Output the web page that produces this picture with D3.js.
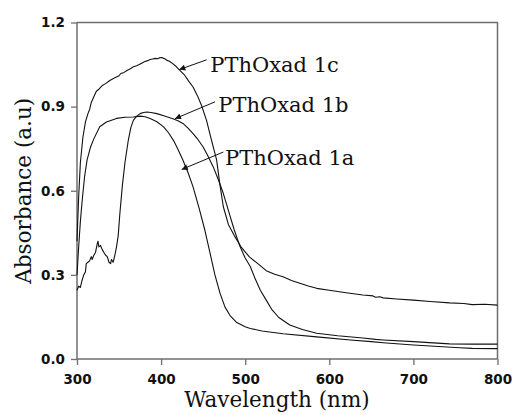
<!DOCTYPE html>
<html>
<head>
<meta charset="utf-8">
<script src="https://cdn.jsdelivr.net/npm/d3@7"></script>
<style>
  html, body { margin: 0; padding: 0; background: #fff; }
  svg { display: block; }
</style>
</head>
<body>
<svg id="chart" width="514" height="415"></svg>
<script>
// ---- data ----
const xTicks = [300, 400, 500, 600, 700, 800];
const yTicks = [0.0, 0.3, 0.6, 0.9, 1.2];
const xLabel = "Wavelength (nm)";
const yLabel = "Absorbance (a.u)";

const wl1c = [300,301,302,304,307,310,313,315,317,320,323,326,330,334,339,345,350,352,356,360,364,367,371,374,377,380,384,387,390,393,396,398,401,403,405,407,410,413,418,422,428,433,438,443,448,454,460,466,470,474,480,487,495,505,515,525,535,545,555,565,575,585,600,620,640,652,655,660,664,680,700,720,743,760,770,785,800];
const ab1c = [0.42,0.50,0.58,0.70,0.79,0.845,0.875,0.89,0.915,0.935,0.955,0.962,0.975,0.982,0.993,1.003,1.01,1.018,1.022,1.03,1.036,1.042,1.046,1.05,1.055,1.06,1.064,1.068,1.07,1.072,1.071,1.074,1.075,1.072,1.07,1.065,1.062,1.055,1.043,1.030,1.012,0.99,0.97,0.94,0.905,0.851,0.78,0.71,0.62,0.543,0.48,0.44,0.40,0.364,0.34,0.315,0.302,0.293,0.28,0.27,0.26,0.252,0.245,0.236,0.228,0.225,0.22,0.222,0.218,0.214,0.21,0.205,0.200,0.198,0.194,0.195,0.192];

const wl1b = [300,302,304,306,308,310,311,313,315,317,318,320,322,324,325,326,328,330,332,334,336,338,340,341,343,345,347,349,351,354,357,361,364,367,371,375,379,383,388,395,405,414,420,426,432,438,444,450,456,462,468,474,480,487,494,500,506,512,518,525,532,540,553,568,585,610,640,655,664,700,743,770,800];
const ab1b = [0.245,0.26,0.255,0.28,0.30,0.31,0.34,0.345,0.35,0.365,0.355,0.37,0.38,0.41,0.42,0.40,0.405,0.39,0.38,0.37,0.365,0.345,0.34,0.355,0.345,0.37,0.40,0.44,0.52,0.62,0.70,0.78,0.825,0.851,0.866,0.875,0.879,0.881,0.879,0.875,0.866,0.857,0.85,0.84,0.823,0.804,0.782,0.756,0.722,0.685,0.64,0.59,0.53,0.46,0.40,0.36,0.33,0.285,0.245,0.21,0.175,0.148,0.121,0.105,0.092,0.083,0.075,0.07,0.068,0.062,0.054,0.053,0.053];

const wl1a = [300,302,304,306,309,312,316,320,327,335,347,357,367,375,381,387,395,403,409,415,420,426,432,438,445,452,458,464,470,476,482,490,500,506,520,545,585,625,650,664,700,755,770,800];
const ab1a = [0.30,0.40,0.49,0.56,0.65,0.71,0.755,0.785,0.828,0.845,0.858,0.862,0.863,0.866,0.864,0.858,0.846,0.828,0.806,0.778,0.748,0.709,0.665,0.614,0.54,0.46,0.38,0.30,0.235,0.185,0.155,0.13,0.115,0.109,0.10,0.09,0.079,0.068,0.062,0.058,0.05,0.04,0.038,0.037];

const labelTexts = ["PThOxad 1c", "PThOxad 1b", "PThOxad 1a"];
// annotation anchors in data units: text start, arrow tail, arrow tip
const labelWl   = [458.5, 468, 476];
const labelAb   = [1.023, 0.881, 0.691];
const tailWl    = [454.2, 464.1, 474];
const tailAb    = [1.067, 0.917, 0.738];
const tipWl     = [421.6, 416.5, 424.5];
const tipAb     = [1.032, 0.857, 0.676];

// ---- drawing ----
const svg = d3.select("#chart");
const x = d3.scaleLinear().domain([300, 800]).range([77, 497.5]);
const y = d3.scaleLinear().domain([0, 1.2]).range([359, 22.5]);

const axisColor = "#6e6e6e";

// frame (top and right)
svg.append("path")
  .attr("d", `M${x(300)},${y(1.2)}H${x(800)}V${y(0)}`)
  .attr("fill", "none").attr("stroke", axisColor).attr("stroke-width", 1.5);

const gx = svg.append("g").attr("transform", `translate(0,${y(0)})`)
  .call(d3.axisBottom(x).tickValues(xTicks).tickSize(6).tickPadding(9).tickFormat(d3.format("d")));
const gy = svg.append("g").attr("transform", `translate(${x(300)},0)`)
  .call(d3.axisLeft(y).tickValues(yTicks).tickSize(6).tickPadding(6).tickFormat(d3.format(".1f")));

[gx, gy].forEach(g => {
  g.selectAll(".domain").attr("stroke", axisColor).attr("stroke-width", 1.5);
  g.selectAll(".tick line").attr("stroke", axisColor).attr("stroke-width", 1.3);
  g.selectAll(".tick text")
    .attr("fill", "#111")
    .style("font-family", "'DejaVu Sans', sans-serif")
    .style("font-weight", "bold")
    .style("font-size", "13.5px");
});
gy.select(".domain").attr("d", `M-0,${y(1.2)}H0V${y(0)}H0`);
gx.select(".domain").attr("d", `M${x(300)},0H${x(800)}`);

// curves
const line = d3.line().x(d => x(d[0])).y(d => y(d[1]));
const series = [[wl1c, ab1c], [wl1b, ab1b], [wl1a, ab1a]];
series.forEach(([w, a]) => {
  svg.append("path")
    .datum(w.map((v, i) => [v, a[i]]))
    .attr("d", line)
    .attr("fill", "none")
    .attr("stroke", "#111")
    .attr("stroke-width", 1.1)
    .attr("stroke-linejoin", "round");
});

// annotations with arrows
svg.append("defs").append("marker")
  .attr("id", "arrow").attr("viewBox", "0 0 10 10")
  .attr("refX", 10).attr("refY", 5)
  .attr("markerWidth", 8).attr("markerHeight", 6)
  .attr("markerUnits", "userSpaceOnUse")
  .attr("orient", "auto")
  .append("path").attr("d", "M0,0L10,5L0,10Z").attr("fill", "#111");

labelTexts.forEach((t, i) => {
  svg.append("line")
    .attr("x1", x(tailWl[i])).attr("y1", y(tailAb[i]))
    .attr("x2", x(tipWl[i])).attr("y2", y(tipAb[i]))
    .attr("stroke", "#111").attr("stroke-width", 1)
    .attr("marker-end", "url(#arrow)");
  svg.append("text")
    .attr("x", x(labelWl[i])).attr("y", y(labelAb[i]))
    .attr("fill", "#111")
    .style("font-family", "'DejaVu Serif', serif")
    .style("font-size", "21px")
    .text(t);
});

// axis titles
svg.append("text")
  .attr("x", 277).attr("y", 407)
  .attr("text-anchor", "middle")
  .attr("fill", "#111")
  .style("font-family", "'DejaVu Serif', serif")
  .style("font-size", "21.5px")
  .text(xLabel);

svg.append("text")
  .attr("transform", `translate(31,${(y(0) + y(1.2)) / 2}) rotate(-90)`)
  .attr("text-anchor", "middle")
  .attr("fill", "#111")
  .style("font-family", "'DejaVu Serif', serif")
  .style("font-size", "21.5px")
  .text(yLabel);
</script>
</body>
</html>
